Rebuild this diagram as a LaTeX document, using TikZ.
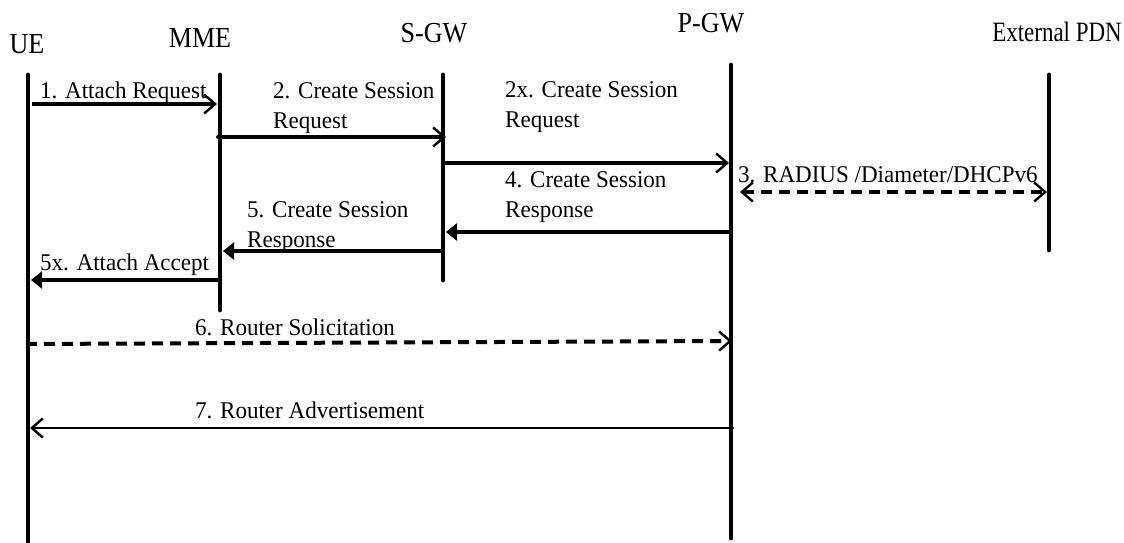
\documentclass[tikz,border=0pt]{standalone}
\usepackage{fontspec}
\setmainfont{Liberation Serif}
\newfontfamily\msgfont{Liberation Serif}[FakeStretch=0.96]
\newfontfamily\labfont{Liberation Serif}[FakeStretch=0.9]
\newfontfamily\pdnfont{Liberation Serif}[FakeStretch=0.82]
\usetikzlibrary{arrows.meta}
\begin{document}
\begin{tikzpicture}[x=1pt,y=-1pt,
  lifeline/.style={line width=4.8pt, line cap=round},
  msg/.style={line width=4pt},
  thinmsg/.style={line width=2.8pt},
  opentip/.style={-{Straight Barb[length=11pt,width=19pt,line width=2.4pt]}},
  bothtip/.style={{Straight Barb[length=11pt,width=19pt,line width=2.4pt]}-{Straight Barb[length=11pt,width=19pt,line width=2.4pt]}},
  filledtip/.style={-{Triangle[length=11pt,width=17pt]}},
  dashmsg/.style={line width=4pt, dash pattern=on 11pt off 7pt},
  lab/.style={font=\labfont\fontsize{29pt}{33pt}\selectfont, anchor=base, inner sep=0pt},
  txt/.style={font=\msgfont\fontsize{24pt}{30pt}\selectfont, anchor=base west, inner sep=0pt},
]
\useasboundingbox (0,0) rectangle (1124,543);

% lifeline labels
\node[lab] (ueL) at (27,53) {UE};
\node[lab] (mmeL) at (200,48) {MME};
\node[lab] (sgwL) at (434,43) {S-GW};
\node[lab] (pgwL) at (711,33) {P-GW};
\node[lab, font=\pdnfont\fontsize{28pt}{32pt}\selectfont] (pdnL) at (1057,42) {External PDN};

% lifelines
\coordinate (ueT) at (28,75);   \coordinate (ueB) at (28,550);
\coordinate (mmeT) at (220,75); \coordinate (mmeB) at (220,310);
\coordinate (sgwT) at (443,75); \coordinate (sgwB) at (443,280);
\coordinate (pgwT) at (731,65); \coordinate (pgwB) at (731,538);
\coordinate (pdnT) at (1049,75);\coordinate (pdnB) at (1049,250);
\draw[lifeline] (ueT) -- (ueB);
\draw[lifeline] (mmeT) -- (mmeB);
\draw[lifeline] (sgwT) -- (sgwB);
\draw[lifeline] (pgwT) -- (pgwB);
\draw[lifeline] (pdnT) -- (pdnB);

% message end points
\coordinate (m1s) at (32,104);   \coordinate (m1e) at (217,104);
\coordinate (m2s) at (218,137);  \coordinate (m2e) at (446,137);
\coordinate (m2xs) at (443,163); \coordinate (m2xe) at (729,163);
\coordinate (m3s) at (740,192);  \coordinate (m3e) at (1047,192);
\coordinate (m4s) at (731,232);  \coordinate (m4e) at (446,232);
\coordinate (m5s) at (443,251);  \coordinate (m5e) at (223,251);
\coordinate (m5xs) at (218,280); \coordinate (m5xe) at (31,280);
\coordinate (m6s) at (26,344);   \coordinate (m6e) at (732,341);
\coordinate (m7s) at (733,428);  \coordinate (m7e) at (30,428);

% messages
\draw[msg, opentip] (m1s) -- (m1e);
\draw[msg, opentip, line cap=round] (m2s) -- (m2e);
\draw[msg, opentip] (m2xs) -- (m2xe);
\draw[dashmsg, bothtip] (m3s) -- (m3e);
\draw[msg, filledtip] (m4s) -- (m4e);
\draw[msg, filledtip, line cap=round] (m5s) -- (m5e);
\draw[msg, filledtip] (m5xs) -- (m5xe);
\draw[dashmsg, opentip] (m6s) -- (m6e);
\draw[thinmsg, opentip, line cap=round] (m7s) -- (m7e);

% message labels
\node[txt] (t1) at (40,98) {1. Attach Request};
\node[txt] (t2) at (273,98) {\parbox[t]{200pt}{2. Create Session\\Request}};
\node[txt] (t2x) at (505,97) {\parbox[t]{200pt}{2x. Create Session\\Request}};
\node[txt] (t3) at (738,182) {3. RADIUS /Diameter/DHCPv6};
\node[txt] (t4) at (505,187) {\parbox[t]{200pt}{4. Create Session\\Response}};
\node[txt] (t5) at (247,217) {\parbox[t]{200pt}{5. Create Session\\Response}};
\node[txt] (t5x) at (40,270) {5x. Attach Accept};
\node[txt] (t6) at (195,335) {6. Router Solicitation};
\node[txt] (t7) at (195,418) {7. Router Advertisement};
\end{tikzpicture}
\end{document}
